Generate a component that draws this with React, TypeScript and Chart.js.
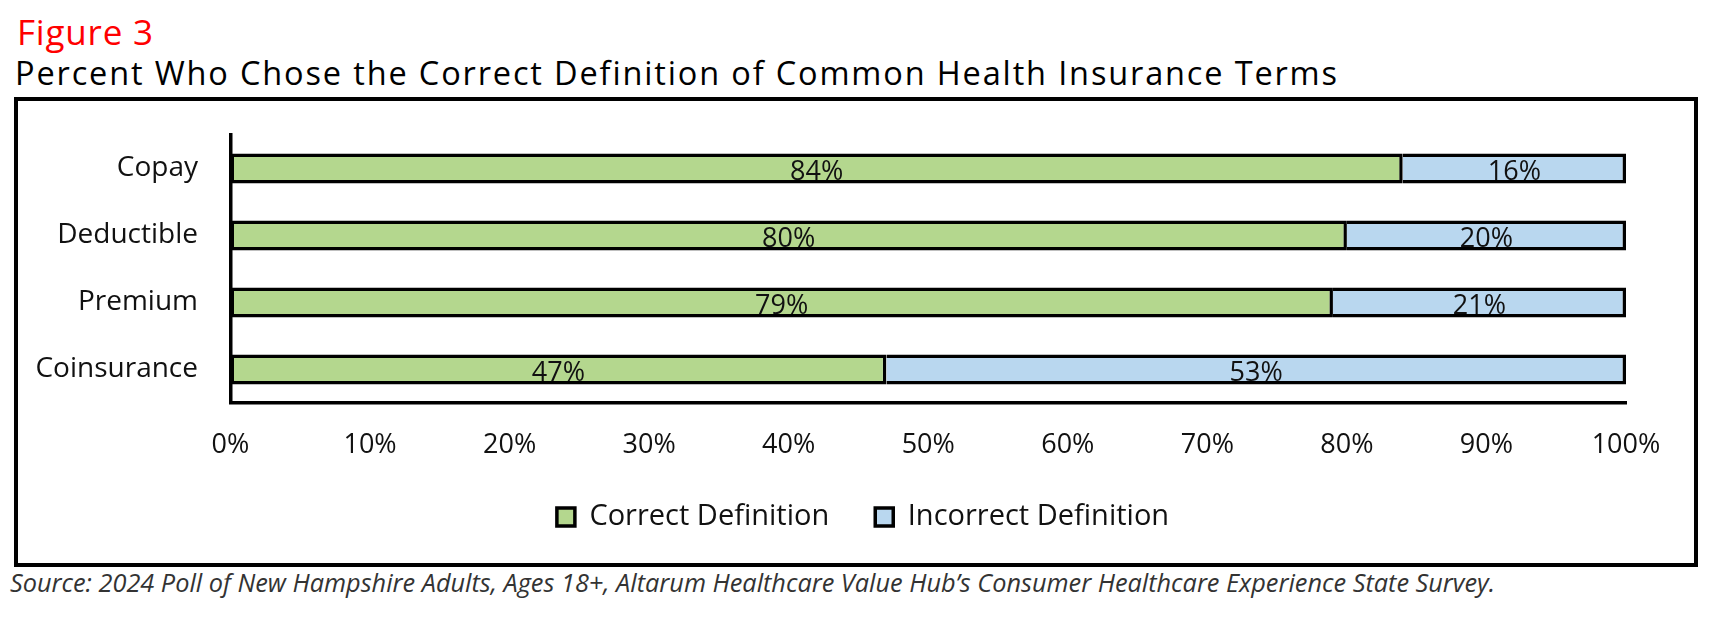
import React, { useEffect, useRef } from "react";
import { Chart, registerables } from "chart.js";

Chart.register(...registerables);

const categories = ["Copay", "Deductible", "Premium", "Coinsurance"];
const correctValues = [84, 80, 79, 47];
const incorrectValues = [16, 20, 21, 53];
const seriesNames = ["Correct Definition", "Incorrect Definition"];
const xTicks = [0, 10, 20, 30, 40, 50, 60, 70, 80, 90, 100];

const FONT = "'Open Sans', Lato, sans-serif";
const TEXT = "#111111";
const GREEN = "#b4d78e";
const BLUE = "#b9d7ef";
const LEGEND_SHIFT = 41;

const dataLabelPlugin = {
  id: "segmentLabels",
  afterDatasetsDraw(chart: any) {
    const ctx = chart.ctx;
    ctx.save();
    ctx.font = `27px ${FONT}`;
    ctx.fillStyle = TEXT;
    ctx.textAlign = "center";
    ctx.textBaseline = "alphabetic";
    chart.data.datasets.forEach((ds: any, di: number) => {
      const meta = chart.getDatasetMeta(di);
      meta.data.forEach((el: any, i: number) => {
        const p = el.getProps(["x", "y", "base"], true);
        const cx = (p.x + p.base) / 2;
        ctx.fillText(`${ds.data[i]}%`, cx, p.y + 11);
      });
    });
    ctx.restore();
  },
};

const legendShiftPlugin = {
  id: "legendShift",
  afterLayout(chart: any) {
    const lg = chart.legend;
    if (lg) {
      lg.left += LEGEND_SHIFT;
      lg.right += LEGEND_SHIFT;
    }
  },
};

export default function App() {
  const ref = useRef<HTMLCanvasElement | null>(null);

  useEffect(() => {
    if (!ref.current) return;
    const chart = new Chart(ref.current, {
      type: "bar",
      data: {
        labels: categories,
        datasets: [
          {
            label: seriesNames[0],
            data: correctValues,
            backgroundColor: GREEN,
            borderColor: "#000",
            borderWidth: 3.5,
            borderSkipped: false,
            barPercentage: 0.45,
            categoryPercentage: 1,
          },
          {
            label: seriesNames[1],
            data: incorrectValues,
            backgroundColor: BLUE,
            borderColor: "#000",
            borderWidth: { top: 3.5, right: 3.5, bottom: 3.5, left: 0 },
            borderSkipped: false,
            barPercentage: 0.45,
            categoryPercentage: 1,
          },
        ],
      },
      options: {
        indexAxis: "y",
        responsive: false,
        animation: false,
        layout: { padding: { left: 0, right: 68, top: 34, bottom: 21.5 } },
        scales: {
          x: {
            stacked: true,
            min: 0,
            max: 100,
            afterBuildTicks: (scale: any) => {
              scale.ticks = xTicks.map((v) => ({ value: v }));
            },
            afterFit: (scale: any) => {
              scale.height = 53.5;
              scale.paddingLeft = 0;
              scale.paddingRight = 0;
            },
            grid: { display: false, drawTicks: false },
            border: { display: true, color: "#000", width: 3.5 },
            ticks: {
              padding: 26.6,
              color: TEXT,
              font: { family: FONT, size: 27 },
              callback: (v: any) => `${v}%`,
              maxRotation: 0,
            },
          },
          y: {
            stacked: true,
            afterFit: (scale: any) => {
              scale.width = 212.5;
              scale.paddingTop = 0;
              scale.paddingBottom = 0;
            },
            grid: { display: false, drawTicks: false },
            border: { display: true, color: "#000", width: 3.5 },
            ticks: {
              padding: 32.5,
              color: TEXT,
              font: { family: FONT, size: 28 },
            },
          },
        },
        plugins: {
          legend: {
            position: "bottom",
            labels: {
              color: TEXT,
              font: { family: FONT, size: 29 },
              boxWidth: 18,
              boxHeight: 18,
              padding: 46,
              generateLabels: (c: any) => {
                const items = (Chart.defaults.plugins.legend.labels as any).generateLabels(c);
                return items.map((it: any) => ({ ...it, lineWidth: 3.5, strokeStyle: "#000" }));
              },
            },
          },
          tooltip: { enabled: false },
        },
      },
      plugins: [dataLabelPlugin, legendShiftPlugin],
    } as any);
    return () => chart.destroy();
  }, []);

  return (
    <div
      style={{
        position: "absolute",
        left: 0,
        top: 0,
        width: 1714,
        height: 618,
        background: "#fff",
        fontFamily: FONT,
        overflow: "hidden",
      }}
    >
      <div
        style={{
          position: "absolute",
          left: 17,
          top: 7.6,
          fontSize: 35,
          lineHeight: "normal",
          letterSpacing: "0.8px",
          color: "#ff0000",
          whiteSpace: "nowrap",
        }}
      >
        Figure 3
      </div>
      <div
        style={{
          position: "absolute",
          left: 15,
          top: 50.3,
          fontSize: 32.5,
          lineHeight: "normal",
          letterSpacing: "1.85px",
          color: "#000",
          whiteSpace: "nowrap",
        }}
      >
        Percent Who Chose the Correct Definition of Common Health Insurance Terms
      </div>
      <div
        style={{
          position: "absolute",
          left: 14,
          top: 97,
          width: 1684,
          height: 470,
          boxSizing: "border-box",
          border: "4px solid #000",
        }}
      />
      <canvas
        ref={ref}
        width={1676}
        height={462}
        style={{ position: "absolute", left: 18, top: 101, width: 1676, height: 462 }}
      />
      <div
        style={{
          position: "absolute",
          left: 10,
          top: 565,
          fontSize: 25.3,
          lineHeight: "normal",
          fontStyle: "italic",
          color: "#333",
          whiteSpace: "nowrap",
        }}
      >
        Source: 2024 Poll of New Hampshire Adults, Ages 18+, Altarum Healthcare Value Hub’s Consumer Healthcare Experience State Survey.
      </div>
    </div>
  );
}
